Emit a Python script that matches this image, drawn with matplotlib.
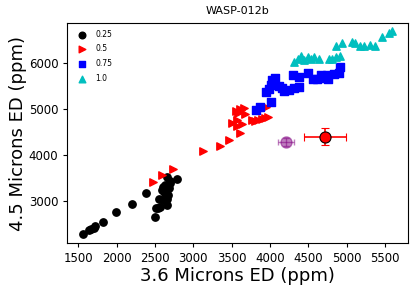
import matplotlib
matplotlib.use("Agg")
import matplotlib.pyplot as plt

title = "WASP-012b"
xlabel = "3.6 Microns ED (ppm)"
ylabel = "4.5 Microns ED (ppm)"

black_x = [1557, 1643, 1665, 1700, 1718, 1826, 1992, 2200, 2383, 2504, 2513, 2540, 2565, 2548,
           2608, 2652, 2673, 2587, 2608, 2620, 2660, 2696, 2791, 2640, 2680, 2700, 2630, 2650]
black_y = [2292, 2378, 2390, 2420, 2466, 2557, 2773, 2933, 3171, 2665, 2847, 2860, 2868, 3041,
           3026, 2918, 3134, 3242, 3313, 3200, 3516, 3387, 3473, 3100, 3280, 3430, 3350, 3050]

red_x = [2478, 2591, 2739, 3122, 3347, 3469, 3608, 3500, 3565, 3630, 3565, 3586, 3608, 3660,
         3673, 3760, 3804, 3847, 3891, 3934, 3977, 3947, 3550, 3620]
red_y = [3421, 3559, 3702, 4084, 4192, 4322, 4466, 4696, 4624, 4661, 4754, 4898, 4985, 5006,
         4883, 4754, 4739, 4754, 4769, 4790, 4825, 5028, 4950, 4970]

blue_x = [3812, 3873, 4015, 3950, 3993, 4015, 4028, 4071, 4058, 4114, 4157, 4188, 4252, 4317,
          4373, 4295, 4373, 4490, 4563, 4619, 4662, 4705, 4748, 4761, 4834, 4899, 4908]
blue_y = [4971, 5043, 5152, 5370, 5420, 5514, 5623, 5659, 5551, 5493, 5442, 5391, 5406, 5442,
          5478, 5732, 5696, 5783, 5638, 5638, 5732, 5659, 5732, 5638, 5754, 5783, 5913]

cyan_x = [4317, 4360, 4403, 4446, 4490, 4533, 4576, 4641, 4770, 4813, 4865, 4908, 4856, 4942,
          5071, 5114, 5179, 5222, 5308, 5365, 5460, 5547, 5590]
cyan_y = [6022, 6072, 6145, 6058, 6130, 6072, 6130, 6072, 6072, 6072, 6130, 6145, 6362, 6420,
          6435, 6420, 6362, 6362, 6384, 6362, 6551, 6638, 6674]

labels = ["0.25", "0.5", "0.75", "1.0"]

purple_pt = (4210, 4280)
purple_err = (100, 80)
red_pt = (4714, 4391)
red_err = (275, 185)

fig = plt.figure(figsize=(4.16, 2.92), dpi=100)
ax = fig.add_axes([0.162, 0.167, 0.818, 0.755])

ax.scatter(black_x, black_y, s=28, c='k', marker='o', label=labels[0])
ax.scatter(red_x, red_y, s=28, c='r', marker='>', label=labels[1])
ax.scatter(blue_x, blue_y, s=28, c='b', marker='s', label=labels[2])
ax.scatter(cyan_x, cyan_y, s=28, c='c', marker='^', label=labels[3])

ax.errorbar([purple_pt[0]], [purple_pt[1]], xerr=[purple_err[0]], yerr=[purple_err[1]],
            fmt='o', color='purple', alpha=0.5, ms=8, capsize=2, elinewidth=1)
ax.errorbar([red_pt[0]], [red_pt[1]], xerr=[red_err[0]], yerr=[red_err[1]],
            fmt='o', mfc='r', mec='k', ecolor='r', ms=8, capsize=3, elinewidth=1.2, mew=0.8)

ax.set_xlim(1357, 5796)
ax.set_ylim(2090, 6860)
ax.set_xticks([1500, 2000, 2500, 3000, 3500, 4000, 4500, 5000, 5500])
ax.set_yticks([3000, 4000, 5000, 6000])
ax.tick_params(labelsize=8.5, length=3)
ax.set_title(title, fontsize=8)
ax.set_xlabel(xlabel, fontsize=13, labelpad=1)
ax.set_ylabel(ylabel, fontsize=13, labelpad=1)
ax.legend(loc='upper left', frameon=False, fontsize=5.5, handletextpad=0.8,
          labelspacing=0.75, markerscale=0.9)

fig.savefig("out.png", dpi=100)
